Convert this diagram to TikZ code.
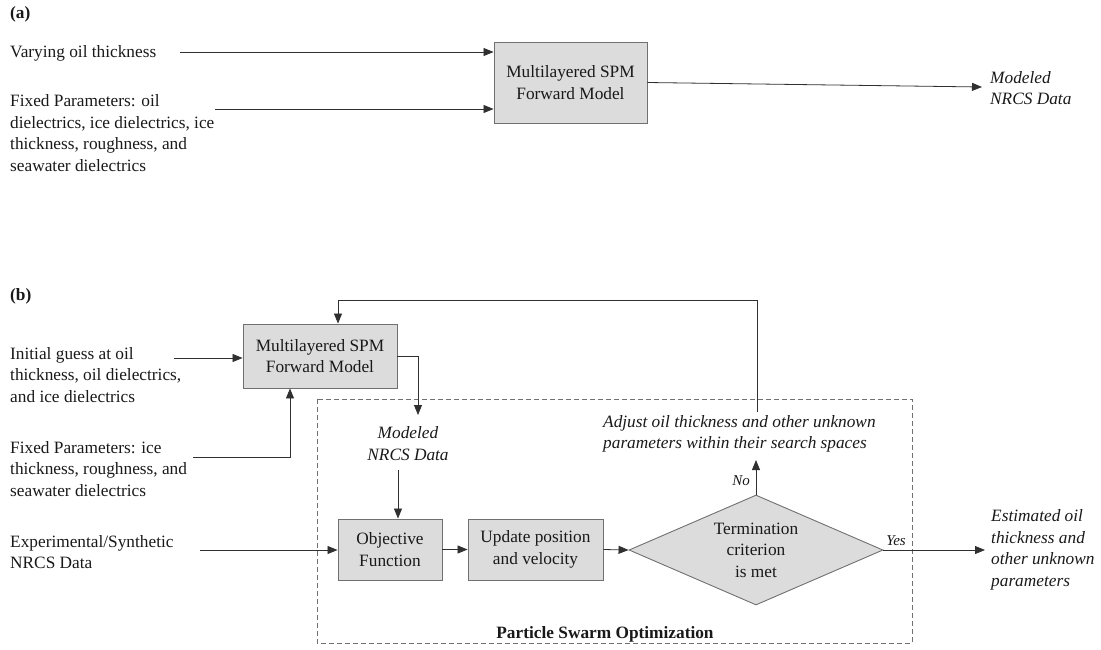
\documentclass[tikz,border=0pt]{standalone}
\usepackage{fontspec}
\setmainfont{LiberationSerif}[Extension=.ttf, UprightFont=*-Regular, BoldFont=*-Bold, ItalicFont=*-Italic, BoldItalicFont=*-BoldItalic]
\usetikzlibrary{shapes.geometric,arrows.meta,calc}
\definecolor{boxfill}{HTML}{DCDCDC}
\definecolor{boxline}{HTML}{707070}
\definecolor{lncol}{HTML}{303030}
\begin{document}
\begin{tikzpicture}[x=1pt,y=-1pt,
  every node/.style={font=\fontsize{17.3}{21.5}\selectfont, text=black!90, inner sep=0pt},
  blk/.style={draw=boxline, fill=boxfill, line width=0.9pt, align=center},
  txt/.style={align=left, anchor=west},
  itx/.style={align=left, anchor=west, font=\fontsize{17.3}{21.5}\selectfont\itshape},
  arr/.style={draw=lncol, line width=0.8pt, -{Triangle[length=10pt,width=8pt]}},
  ln/.style={draw=lncol, line width=0.8pt}]
\useasboundingbox (0,0) rectangle (1101,649);

% ---------- (a) ----------
\node[txt, font=\fontsize{17.3}{21.5}\selectfont\bfseries] (la) at (10,14) {(a)};
\node[txt] (va) at (10,53) {Varying oil thickness};
\node[txt] (fa) at (10,133) {Fixed Parameters: oil\\dielectrics, ice dielectrics, ice\\thickness, roughness, and\\seawater dielectrics};
\node[blk, minimum width=153, minimum height=81] (boxa) at (570.5,82.5) {Multilayered SPM\\Forward Model};
\node[itx] (moda) at (990,88) {Modeled\\NRCS Data};
\coordinate (a1) at (180,52);
\coordinate (a2) at (215,109);
\coordinate (a3) at (982,87);
\draw[arr] (a1) -- (a1 -| boxa.west);
\draw[arr] (a2) -- (a2 -| boxa.west);
\draw[arr] (boxa.east) -- (a3);

% ---------- (b) ----------
\node[txt, font=\fontsize{17.3}{21.5}\selectfont\bfseries] (lb) at (10,296) {(b)};
\draw[boxline, line width=0.8pt, dash pattern=on 5pt off 3pt] (317,399) rectangle (912,643);
\node[font=\fontsize{17.3}{21.5}\selectfont\bfseries] (pso) at (605,634) {Particle Swarm Optimization};

\node[blk, minimum width=154, minimum height=64] (boxb) at (320,356) {Multilayered SPM\\Forward Model};
\node[txt] (ig) at (10,375) {Initial guess at oil\\thickness, oil dielectrics,\\and ice dielectrics};
\node[txt] (fb) at (10,469) {Fixed Parameters: ice\\thickness, roughness, and\\seawater dielectrics};
\node[txt] (ex) at (10,552) {Experimental/Synthetic\\NRCS Data};
\node[align=center, font=\fontsize{17.3}{21.5}\selectfont\itshape] (modb) at (408,443.5) {Modeled\\NRCS Data};
\node[blk, minimum width=104, minimum height=61] (obj) at (390,549.5) {Objective\\Function};
\node[blk, minimum width=135, minimum height=61] (upd) at (535.5,549.5) {Update position\\and velocity};
\node[blk, shape=diamond, aspect=2.31, minimum width=254, minimum height=110] (dia) at (756,550) {Termination\\criterion\\is met};
\node[itx] (adj) at (603,434) {Adjust oil thickness and other unknown\\parameters within their search spaces};
\node[font=\fontsize{15}{18}\selectfont\itshape] (no) at (741,481) {No};
\node[font=\fontsize{15}{18}\selectfont\itshape] (yes) at (896,541) {Yes};
\node[itx] (est) at (991,550) {Estimated oil\\thickness and\\other unknown\\parameters};

\coordinate (fbl) at (757,412);
\coordinate (fbtop) at (338,300);
\coordinate (ig1) at (174,358);
\coordinate (fb2) at (193,457);
\coordinate (mb) at (418,415);
\coordinate (mo) at (398,470);
\coordinate (ex1) at (200,550);
\coordinate (no1) at (756,460);
\coordinate (yes1) at (985,550);

\draw[arr] (fbl) |- (fbtop) -- (fbtop |- boxb.north);
\draw[arr] (ig1) -- (ig1 -| boxb.west);
\draw[arr] (fb2) -| ($(boxb.south)+(-30,0)$);
\draw[arr] (boxb.east) -| (mb);
\draw[arr] (mo) -- (mo |- obj.north);
\draw[arr] (ex1) -- (ex1 -| obj.west);
\draw[arr] (obj.east) -- (upd.west);
\draw[arr] (upd.east) -- (dia.west);
\draw[arr] (dia.north) -- (no1);
\draw[arr] (dia.east) -- (yes1);
\end{tikzpicture}
\end{document}
